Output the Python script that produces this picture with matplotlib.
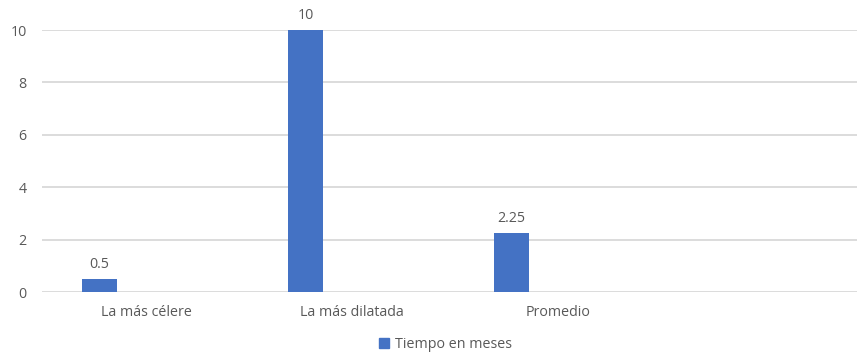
import matplotlib
matplotlib.use("Agg")
import matplotlib.pyplot as plt
from matplotlib.patches import Patch

categories = ["La más célere", "La más dilatada", "Promedio"]
values = [0.5, 10, 2.25]
value_labels = ["0.5", "10", "2.25"]
series_name = "Tiempo en meses"
y_ticks = [0, 2, 4, 6, 8, 10]

plt.rcParams["font.family"] = ["Open Sans", "DejaVu Sans"]
text_color = "#595959"
bar_color = "#4472C4"

fig = plt.figure(figsize=(8.57, 3.54), dpi=100)
ax = fig.add_axes([0.049, 0.175, 0.951, 0.74])

x = list(range(len(categories)))
bar_offset = -0.226
bar_width = 0.172
bx = [i + bar_offset for i in x]
bars = ax.bar(bx, values, width=bar_width, color=bar_color, zorder=3)

for xi, v, lab in zip(bx, values, value_labels):
    ax.annotate(lab, (xi, v), xytext=(0, 5), textcoords="offset points",
                ha="center", va="bottom", fontsize=10.3, color=text_color)

ax.set_xlim(-0.505, 3.45)
ax.set_ylim(0, 10)
ax.set_yticks(y_ticks)
ax.set_yticklabels([str(t) for t in y_ticks])
ax.set_xticks(x)
ax.set_xticklabels(categories)
ax.tick_params(axis="both", length=0, colors=text_color, labelsize=10.3)
ax.tick_params(axis="x", pad=9)
ax.tick_params(axis="y", pad=11)

ax.grid(axis="y", color="#d9d9d9", linewidth=1.3, zorder=0)
for s in ax.spines.values():
    s.set_visible(False)

handle = Patch(facecolor=bar_color, edgecolor=bar_color)
fig.legend([handle], [series_name], loc="center", bbox_to_anchor=(0.52, 0.028),
           frameon=False, fontsize=10.3, labelcolor=text_color,
           handlelength=0.7, handleheight=0.7, handletextpad=0.4)

fig.savefig("out.png", dpi=100, facecolor="white")
